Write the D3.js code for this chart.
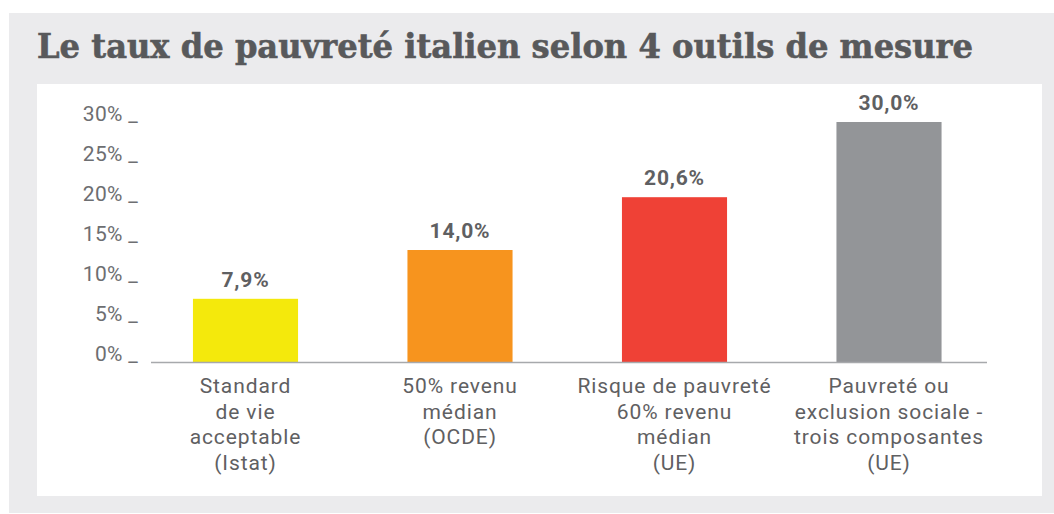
<!DOCTYPE html>
<html>
<head>
<meta charset="utf-8">
<script src="https://cdn.jsdelivr.net/npm/d3@7"></script>
<style>
body { margin: 0; background: #fff; }
svg { display: block; }
</style>
</head>
<body>
<svg id="chart" width="1054" height="514"></svg>
<script>
var title = "Le taux de pauvreté italien selon 4 outils de mesure"
var categories = [
  ["Standard", "de vie", "acceptable", "(Istat)"],
  ["50% revenu", "médian", "(OCDE)"],
  ["Risque de pauvreté", "60% revenu", "médian", "(UE)"],
  ["Pauvreté ou", "exclusion sociale -", "trois composantes", "(UE)"]
]
var values = [7.9, 14.0, 20.6, 30.0]
var colors = ["#f4e90c", "#f7941e", "#ef4136", "#939598"]
var ticks = [0, 5, 10, 15, 20, 25, 30]

var textColor = "#5f6062"
var svg = d3.select("#chart")

// panels
svg.append("rect").attr("x", 9).attr("y", 13).attr("width", 1045).attr("height", 500).attr("fill", "#ebebed")
svg.append("rect").attr("x", 37).attr("y", 84).attr("width", 1005).attr("height", 412).attr("fill", "#fff")

svg.append("text")
  .attr("x", 37).attr("y", 58)
  .attr("textLength", 936).attr("lengthAdjust", "spacingAndGlyphs")
  .style("font-family", "'DejaVu Serif', serif")
  .style("font-weight", "bold")
  .style("font-size", "33px")
  .attr("fill", "#58595b")
  .attr("stroke", "#58595b").attr("stroke-width", 0.6)
  .text(title)

var y = d3.scaleLinear().domain([0, 30]).range([362, 122])
var x = d3.scaleBand().domain(d3.range(categories.length))
  .range([138.25, 996.25]).paddingInner(0.51).paddingOuter(0.255)

// y axis: labels with underscore ticks
var yAxis = svg.append("g")
  .attr("transform", "translate(138,0)")
  .call(d3.axisLeft(y).tickValues(ticks).tickSize(0).tickPadding(0).tickFormat(d => d + "% _"))
yAxis.select(".domain").remove()
yAxis.selectAll("text")
  .attr("dy", "-0.05em")
  .attr("fill", "#6d6e71")
  .style("font-family", "Roboto, sans-serif")
  .style("font-size", "21px")
  .style("letter-spacing", "0.3px")

// bars
svg.selectAll(".bar").data(values).enter().append("rect")
  .attr("class", "bar")
  .attr("x", (d, i) => x(i))
  .attr("width", x.bandwidth())
  .attr("y", d => y(d))
  .attr("height", d => y(0) - y(d))
  .attr("fill", (d, i) => colors[i])

// baseline
svg.append("line")
  .attr("x1", 151).attr("x2", 987)
  .attr("y1", y(0) + 0.5).attr("y2", y(0) + 0.5)
  .attr("stroke", "#a7a9ac").attr("stroke-width", 1.5)

// value labels
svg.selectAll(".val").data(values).enter().append("text")
  .attr("class", "val")
  .attr("x", (d, i) => x(i) + x.bandwidth() / 2)
  .attr("y", d => y(d) - 12)
  .attr("text-anchor", "middle")
  .attr("fill", textColor)
  .style("font-family", "Roboto, sans-serif")
  .style("font-weight", "bold")
  .style("font-size", "21px")
  .style("letter-spacing", "0.8px")
  .text(d => d3.format(".1f")(d).replace(".", ",") + "%")

// category labels
var cat = svg.selectAll(".cat").data(categories).enter().append("text")
  .attr("class", "cat")
  .attr("text-anchor", "middle")
  .attr("fill", textColor)
  .style("font-family", "Roboto, sans-serif")
  .style("font-size", "21px")
  .style("letter-spacing", "0.9px")
cat.selectAll("tspan").data((d, i) => d.map(t => ({t: t, i: i}))).enter().append("tspan")
  .attr("x", d => x(d.i) + x.bandwidth() / 2)
  .attr("y", (d, j) => 393 + j * 25.7)
  .text(d => d.t)
</script>
</body>
</html>
